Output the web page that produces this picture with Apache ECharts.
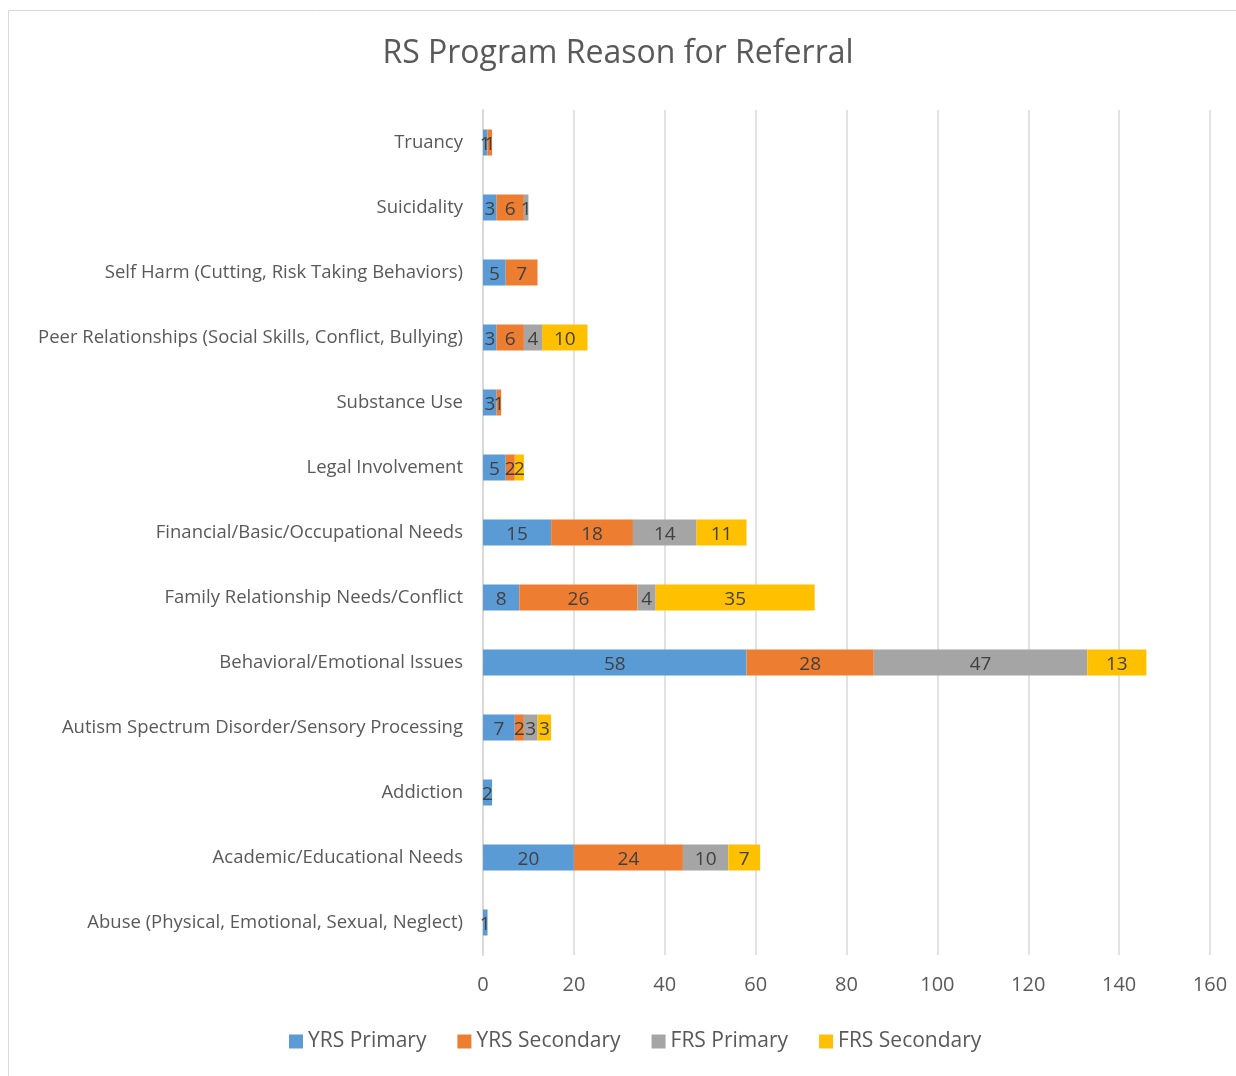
<!DOCTYPE html>
<html>
<head>
<meta charset="utf-8">
<script src="https://cdn.jsdelivr.net/npm/echarts@6/dist/echarts.min.js"></script>
<style>
  html, body { margin: 0; padding: 0; background: #fff; }
  #chart { width: 1236px; height: 1076px; }
</style>
</head>
<body>
<div id="chart"></div>
<script>
// categories, bottom to top (as the y axis draws them)
var categories = [
  "Abuse (Physical, Emotional, Sexual, Neglect)",
  "Academic/Educational Needs",
  "Addiction",
  "Autism Spectrum Disorder/Sensory Processing",
  "Behavioral/Emotional Issues",
  "Family Relationship Needs/Conflict",
  "Financial/Basic/Occupational Needs",
  "Legal Involvement",
  "Substance Use",
  "Peer Relationships (Social Skills, Conflict, Bullying)",
  "Self Harm (Cutting, Risk Taking Behaviors)",
  "Suicidality",
  "Truancy"
];
var yrsPrimary   = [1, 20, 2, 7, 58, 8, 15, 5, 3, 3, 5, 3, 1];
var yrsSecondary = [null, 24, null, 2, 28, 26, 18, 2, 1, 6, 7, 6, 1];
var frsPrimary   = [null, 10, null, 3, 47, 4, 14, null, null, 4, null, 1, null];
var frsSecondary = [null, 7, null, 3, 13, 35, 11, 2, null, 10, null, null, null];
var xTicks = [0, 20, 40, 60, 80, 100, 120, 140, 160];

var font = "Open Sans";
var myChart = echarts.init(document.getElementById("chart"));

function mkSeries(name, data, color) {
  return {
    name: name,
    type: "bar",
    stack: "total",
    data: data,
    barWidth: "40%",
    itemStyle: { color: color },
    label: {
      show: true,
      position: "inside",
      color: "#404040",
      fontSize: 19,
      fontFamily: font,
      offset: [0, 2]
    }
  };
}

myChart.setOption({
  animation: false,
  title: {
    text: "RS Program Reason for Referral",
    left: "center",
    top: 33,
    textStyle: { color: "#595959", fontSize: 32, fontWeight: "normal", fontFamily: font }
  },
  graphic: [{
    type: "rect",
    shape: { x: 8.5, y: 10.5, width: 1240, height: 1080 },
    style: { fill: null, stroke: "#d9d9d9", lineWidth: 1 },
    silent: true
  }],
  legend: {
    bottom: 19,
    left: 284,
    itemWidth: 14,
    itemHeight: 14,
    itemGap: 31,
    icon: "rect",
    textStyle: { color: "#595959", fontSize: 21, fontFamily: font }
  },
  grid: { left: 483, right: 26, top: 110, bottom: 121 },
  xAxis: {
    type: "value",
    min: xTicks[0],
    max: xTicks[xTicks.length - 1],
    interval: 20,
    axisLine: { show: false },
    axisTick: { show: false },
    axisLabel: { color: "#595959", fontSize: 20, fontFamily: font, margin: 20 },
    splitLine: { lineStyle: { color: "#d9d9d9", width: 1.5 } }
  },
  yAxis: {
    type: "category",
    data: categories,
    axisLine: { show: true, lineStyle: { color: "#d9d9d9", width: 2 } },
    axisTick: { show: false },
    axisLabel: { color: "#595959", fontSize: 18.5, fontFamily: font, margin: 20 }
  },
  series: [
    mkSeries("YRS Primary", yrsPrimary, "#5b9bd5"),
    mkSeries("YRS Secondary", yrsSecondary, "#ed7d31"),
    mkSeries("FRS Primary", frsPrimary, "#a5a5a5"),
    mkSeries("FRS Secondary", frsSecondary, "#ffc000")
  ]
});
</script>
</body>
</html>
